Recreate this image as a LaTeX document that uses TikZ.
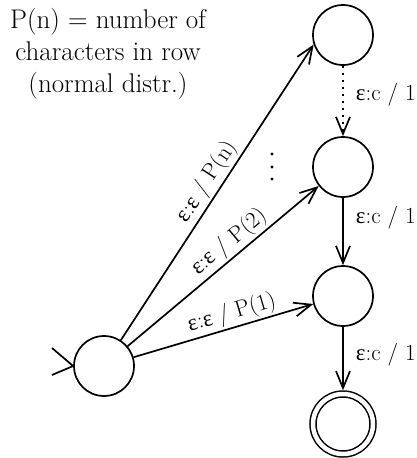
\documentclass[tikz,border=0pt]{standalone}
\usepackage{fontspec}
\newfontfamily\grk{Liberation Serif}
\newcommand{\eps}{{\grk ε}}
\usetikzlibrary{arrows.meta}
\begin{document}
\begin{tikzpicture}[x=1pt,y=-1pt,
  state/.style={circle,draw,line width=1.7pt,minimum size=60pt,inner sep=0pt},
  accept/.style={state,line width=1.5pt,double,double distance=4.5pt,outer sep=3.7pt},
  ed/.style={line width=1.7pt,-{Straight Barb[length=17pt,width=14pt]}},
  lab/.style={font=\fontsize{23}{27}\selectfont,inner sep=2pt},
  vlab/.style={font=\fontsize{23}{27}\selectfont,inner sep=0pt,anchor=west,xshift=12pt},
  dotmark/.style={circle,fill,inner sep=0pt,minimum size=3.4pt}]
\useasboundingbox (0,0) rectangle (417,458);
\node[align=center,font=\fontsize{27}{32}\selectfont] (txt) at (108,54)
  {P(n) = number of\\characters in row\\(normal distr.)};
\node[state] (s) at (104,366) {};
\node[state] (n1) at (343,35) {};
\node[state] (n2) at (343,167) {};
\node[state] (n3) at (343,296) {};
\node[accept] (f) at (343,424) {};
\node[dotmark] (d1) at (272,154) {};
\node[dotmark] (d2) at (272,167) {};
\node[dotmark] (d3) at (272,179) {};
% initial chevron
\coordinate (i1) at (52,348);
\coordinate (i2) at (52,375);
\draw[line width=1.7pt] (i1) -- (s.west) -- (i2);
\draw[ed] (s) -- (n1.198) node[lab,sloped,above,pos=0.51] {\eps:\eps{} / P(n)};
\draw[ed] (s) -- (n2.218) node[lab,sloped,above,pos=0.58] {\eps:\eps{} / P(2)};
\draw[ed] (s) -- (n3.195) node[lab,sloped,above,pos=0.57] {\eps:\eps{} / P(1)};
\draw[ed,dash pattern=on 2pt off 5pt] (n1) -- (n2) node[vlab,pos=0.41] {\eps:c / 1};
\draw[ed] (n2) -- (n3) node[vlab,pos=0.3] {\eps:c / 1};
\draw[ed] (n3) -- (f) node[vlab,pos=0.44] {\eps:c / 1};
\end{tikzpicture}
\end{document}
